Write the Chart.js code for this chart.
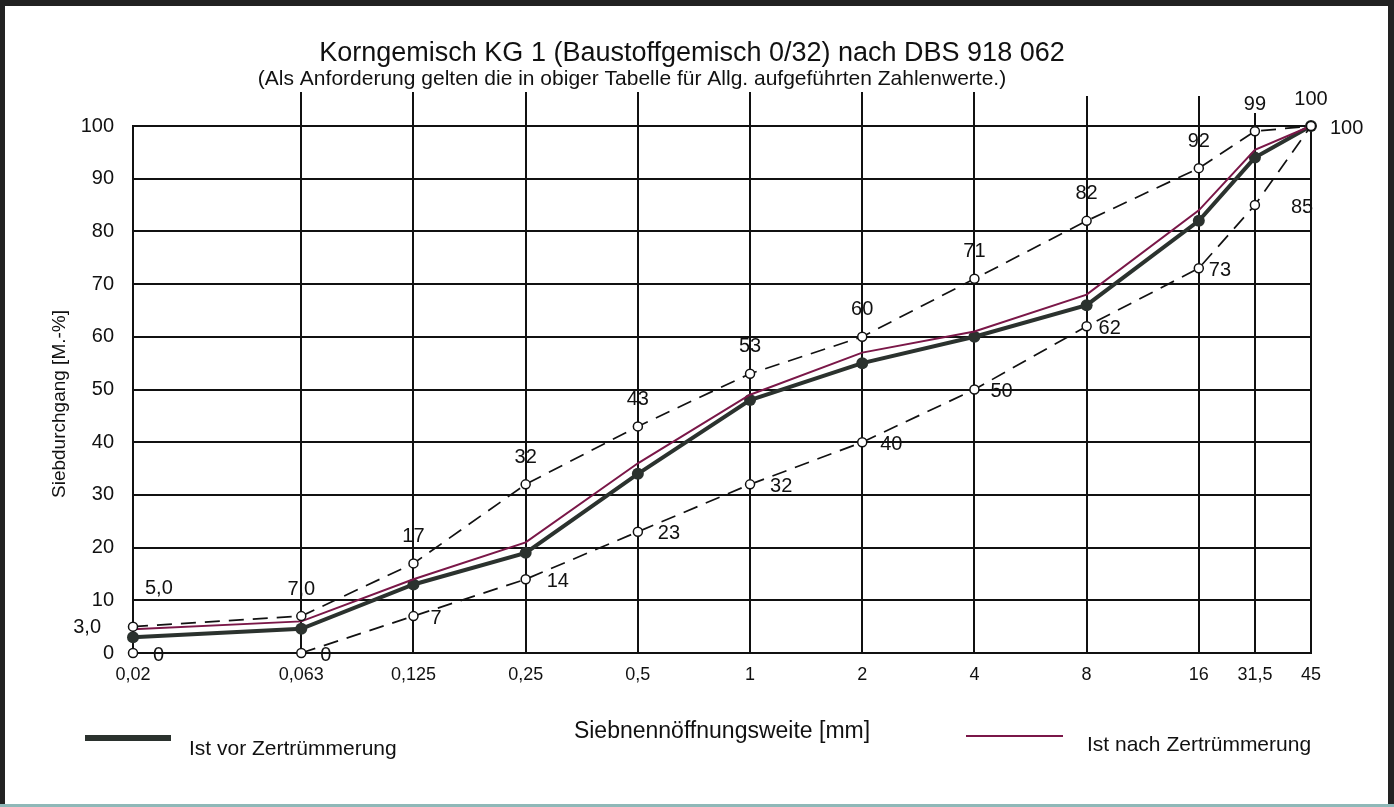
<!DOCTYPE html>
<html>
<head>
<meta charset="utf-8">
<title>Korngemisch KG 1</title>
<script src="https://cdn.jsdelivr.net/npm/chart.js@4.4.0/dist/chart.umd.min.js"></script>
<style>
  html, body { margin: 0; padding: 0; background: #fff; }
  #wrap { width: 1394px; height: 807px; }
</style>
</head>
<body>
<div id="wrap"><canvas id="sieveChart" width="1394" height="807"></canvas></div>
<script>
// Siebweiten (mm) und ihre Lage auf der gestauchten Siebachse des Formblatts
var sieveLabels = ['0,02', '0,063', '0,125', '0,25', '0,5', '1', '2', '4', '8', '16', '31,5', '45'];
var sieveAxisSteps = [0, 1.5, 2.5, 3.5, 4.5, 5.5, 6.5, 7.5, 8.5, 9.5, 10, 10.5];
var yTicks = [0, 10, 20, 30, 40, 50, 60, 70, 80, 90, 100];

// Siebdurchgang in M.-%
var upperLimit = [5, 7, 17, 32, 43, 53, 60, 71, 82, 92, 99, 100];
var lowerLimit = [0, 0, 7, 14, 23, 32, 40, 50, 62, 73, 85, 100];
var beforeCrushing = [3, 4.6, 13, 19, 34, 48, 55, 60, 66, 82, 94, 100];
var afterCrushing = [4.5, 6, 14, 21, 36, 49, 57, 61, 68, 84, 95.5, 100];

var FONT = '"Liberation Sans", Arial, Helvetica, sans-serif';
var INK = '#111';
var DARK = '#2b322e';
var PURPLE = '#7a1748';

// Abstand der Beschriftung der Untergrenze rechts vom Punkt (wie im Formblatt gesetzt)
var lowerLabelDx = [20, 19, 17, 21, 20, 20, 18, 16, 12, 10, 36, 19];

function points(values) {
  return values.map(function(v, i) { return { x: sieveAxisSteps[i], y: v }; });
}

function fmt(v) {
  return v < 10 && v > 0 ? v.toFixed(1).replace('.', ',') : String(v);
}

// Rahmen, Kopfzeilen, Gitterverlängerungen, Wertebeschriftung und Legende
var formPlugin = {
  id: 'formPlugin',
  beforeDraw: function(chart) {
    var ctx = chart.ctx;
    ctx.save();
    ctx.fillStyle = '#fff';
    ctx.fillRect(0, 0, chart.width, chart.height);
    ctx.restore();
  },
  beforeDatasetsDraw: function(chart) {
    var ctx = chart.ctx;
    var xs = chart.scales.x;
    var top = chart.chartArea.top;
    ctx.save();
    ctx.strokeStyle = INK;
    ctx.lineWidth = 2;
    for (var i = 1; i < sieveAxisSteps.length - 1; i++) {
      var ext = i <= 7 ? 34 : (i <= 9 ? 30 : 13);
      var x = Math.round(xs.getPixelForValue(sieveAxisSteps[i]));
      ctx.beginPath();
      ctx.moveTo(x, top - ext);
      ctx.lineTo(x, top);
      ctx.stroke();
    }
    ctx.restore();
  },
  afterDraw: function(chart) {
    var ctx = chart.ctx;
    var W = chart.width, H = chart.height;
    ctx.save();

    // Titel
    ctx.fillStyle = INK;
    ctx.textBaseline = 'middle';
    ctx.textAlign = 'center';
    ctx.font = '27px ' + FONT;
    ctx.fillText('Korngemisch KG 1 (Baustoffgemisch 0/32) nach DBS 918 062', 692, 54);
    ctx.font = '21px ' + FONT;
    ctx.fillText('(Als Anforderung gelten die in obiger Tabelle für Allg. aufgeführten Zahlenwerte.)', 632, 79);

    // y-Achsentitel
    ctx.save();
    ctx.translate(60, 404);
    ctx.rotate(-Math.PI / 2);
    ctx.font = '19px ' + FONT;
    ctx.fillText('Siebdurchgang [M.-%]', 0, 0);
    ctx.restore();

    // Wertebeschriftung
    ctx.font = '20px ' + FONT;
    var up = chart.getDatasetMeta(0).data;
    var lo = chart.getDatasetMeta(1).data;
    var bc = chart.getDatasetMeta(3).data;
    up.forEach(function(p, i) {
      if (i === 0) {
        ctx.textAlign = 'left';
        ctx.fillText(fmt(upperLimit[i]), p.x + 12, p.y - 38);
      } else {
        ctx.textAlign = 'center';
        ctx.fillText(fmt(upperLimit[i]), p.x, p.y - 27);
      }
    });
    ctx.textAlign = 'left';
    lo.forEach(function(p, i) {
      ctx.fillText(String(lowerLimit[i]), p.x + lowerLabelDx[i], p.y + 2);
    });
    ctx.textAlign = 'right';
    ctx.fillText(fmt(beforeCrushing[0]), bc[0].x - 32, bc[0].y - 10);

    // Legende
    ctx.textAlign = 'left';
    ctx.strokeStyle = DARK;
    ctx.lineWidth = 6;
    ctx.beginPath();
    ctx.moveTo(85, 738);
    ctx.lineTo(171, 738);
    ctx.stroke();
    ctx.strokeStyle = PURPLE;
    ctx.lineWidth = 2;
    ctx.beginPath();
    ctx.moveTo(966, 736);
    ctx.lineTo(1063, 736);
    ctx.stroke();
    ctx.fillStyle = INK;
    ctx.font = '21px ' + FONT;
    ctx.fillText('Ist vor Zertrümmerung', 189, 749);
    ctx.fillText('Ist nach Zertrümmerung', 1087, 745);

    // Blattrahmen
    ctx.fillStyle = '#222';
    ctx.fillRect(0, 0, W, 6);
    ctx.fillRect(0, 0, 5, H);
    ctx.fillRect(W - 6, 0, 6, H);
    ctx.fillStyle = '#8fb8b8';
    ctx.fillRect(0, H - 3, W, 3);
    ctx.restore();
  }
};

var ctx = document.getElementById('sieveChart').getContext('2d');
var chart = new Chart(ctx, {
  type: 'line',
  data: {
    datasets: [
      {
        label: 'Obergrenze',
        data: points(upperLimit),
        borderColor: INK,
        borderWidth: 1.7,
        borderDash: [15, 9],
        pointRadius: 4.5,
        pointBackgroundColor: '#fff',
        pointBorderColor: INK,
        pointBorderWidth: 1.5,
        clip: false,
        order: 1
      },
      {
        label: 'Untergrenze',
        data: points(lowerLimit),
        borderColor: INK,
        borderWidth: 1.7,
        borderDash: [15, 9],
        pointRadius: 4.5,
        pointBackgroundColor: '#fff',
        pointBorderColor: INK,
        pointBorderWidth: 1.5,
        clip: false,
        order: 2
      },
      {
        label: 'Ist nach Zertrümmerung',
        data: points(afterCrushing),
        borderColor: PURPLE,
        borderWidth: 2,
        pointRadius: 0,
        clip: false,
        order: 3
      },
      {
        label: 'Ist vor Zertrümmerung',
        data: points(beforeCrushing),
        borderColor: DARK,
        borderWidth: 4,
        pointRadius: 6,
        pointBackgroundColor: DARK,
        pointBorderColor: DARK,
        pointBorderWidth: 0,
        clip: false,
        order: 4
      }
    ]
  },
  options: {
    responsive: false,
    animation: false,
    devicePixelRatio: 1,
    layout: { padding: { left: 0, right: 83, top: 126, bottom: 0 } },
    elements: { line: { tension: 0 } },
    plugins: {
      legend: { display: false },
      tooltip: { enabled: false }
    },
    scales: {
      x: {
        type: 'linear',
        min: sieveAxisSteps[0],
        max: sieveAxisSteps[sieveAxisSteps.length - 1],
        afterBuildTicks: function(scale) {
          scale.ticks = sieveAxisSteps.map(function(v) { return { value: v }; });
        },
        afterFit: function(scale) { scale.height = 154; },
        ticks: {
          autoSkip: false,
          maxRotation: 0,
          padding: 11,
          color: INK,
          font: { family: FONT, size: 18 },
          callback: function(value, index) { return sieveLabels[index]; }
        },
        grid: { color: INK, lineWidth: 2, drawTicks: false },
        border: { color: INK, width: 2 },
        title: {
          display: true,
          text: 'Siebnennöffnungsweite [mm]',
          color: INK,
          font: { family: FONT, size: 23 },
          padding: { top: 0, bottom: 62 }
        }
      },
      y: {
        min: 0,
        max: 100,
        afterBuildTicks: function(scale) {
          scale.ticks = yTicks.map(function(v) { return { value: v }; });
        },
        afterFit: function(scale) { scale.width = 133; },
        ticks: {
          padding: 19,
          color: INK,
          font: { family: FONT, size: 20 }
        },
        grid: { color: INK, lineWidth: 2, drawTicks: false },
        border: { color: INK, width: 2 }
      }
    }
  },
  plugins: [formPlugin]
});
</script>
</body>
</html>
